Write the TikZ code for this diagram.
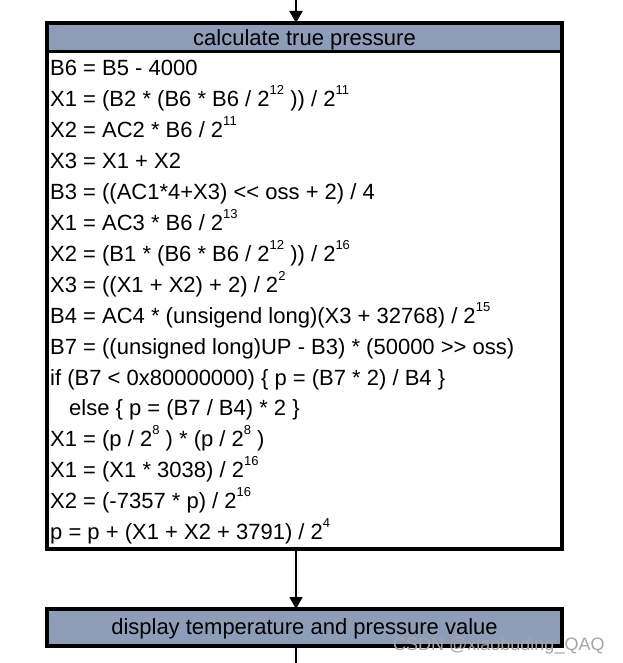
\documentclass[tikz,border=0pt]{standalone}
\usepackage{fontspec}
\setmainfont{Liberation Sans}
\usetikzlibrary{arrows.meta}
\definecolor{hdr}{RGB}{142,157,183}
\newcommand{\sups}[1]{\raisebox{12pt}{\fontsize{13}{13}\selectfont #1}}
\begin{document}
\begin{tikzpicture}[x=1pt,y=-1pt,
  box/.style={draw=black,line width=4.5pt,minimum width=515pt,inner sep=0pt,outer sep=0pt},
  hdrbar/.style={fill=hdr,minimum width=510.5pt,inner sep=0pt,outer sep=0pt},
  codeline/.style={anchor=base west,inner sep=0pt,font=\fontsize{22}{22}\selectfont},
  conn/.style={line width=2pt,-{Triangle[width=13pt,length=12pt]}},
  plain/.style={line width=2pt}]
\useasboundingbox (0,0) rectangle (622,663);
\fill[white] (0,0) rectangle (622,663);
% main box
\node[box,minimum height=526pt] (calc) at (304.5,286) {};
\node[hdrbar,minimum height=27pt,anchor=north] (calchdr) at (304.5,25.25) {};
\node[anchor=base,inner sep=0pt,font=\fontsize{22}{22}\selectfont] (calctitle) at (304.5,46) {calculate true pressure};
\draw[line width=2.5pt] (calc.west |- 0,51.5) ++(2.25,0) coordinate (sepl) -- (calc.east |- sepl) ++(-2.25,0) coordinate (sepr);
% code lines
\node[codeline] (l1) at (50,76) {B6 = B5 - 4000};
\node[codeline] (l2) at (50,106.9) {X1 = (B2 * (B6 * B6 / 2\sups{12} )) / 2\sups{11}};
\node[codeline] (l3) at (50,137.8) {X2 = AC2 * B6 / 2\sups{11}};
\node[codeline] (l4) at (50,168.7) {X3 = X1 + X2};
\node[codeline] (l5) at (50,199.6) {B3 = ((AC1*4+X3) <{}< oss + 2) / 4};
\node[codeline] (l6) at (50,230.5) {X1 = AC3 * B6 / 2\sups{13}};
\node[codeline] (l7) at (50,261.4) {X2 = (B1 * (B6 * B6 / 2\sups{12} )) / 2\sups{16}};
\node[codeline] (l8) at (50,292.3) {X3 = ((X1 + X2) + 2) / 2\sups{2}};
\node[codeline] (l9) at (50,323.2) {B4 = AC4 * (unsigend long)(X3 + 32768) / 2\sups{15}};
\node[codeline] (l10) at (50,354.1) {B7 = ((unsigned long)UP - B3) * (50000 >{}> oss)};
\node[codeline] (l11) at (50,385) {if (B7 < 0x80000000) \{ p = (B7 * 2) / B4 \}};
\node[codeline] (l12) at (69,415.9) {else \{ p = (B7 / B4) * 2 \}};
\node[codeline] (l13) at (50,446.8) {X1 = (p / 2\sups{8} ) * (p / 2\sups{8} )};
\node[codeline] (l14) at (50,477.7) {X1 = (X1 * 3038) / 2\sups{16}};
\node[codeline] (l15) at (50,508.6) {X2 = (-7357 * p) / 2\sups{16}};
\node[codeline] (l16) at (50,539.5) {p = p + (X1 + X2 + 3791) / 2\sups{4}};
% display box
\node[box,minimum height=37pt,fill=hdr] (disp) at (304.5,627.5) {};
\node[anchor=base,inner sep=0pt,font=\fontsize{22}{22}\selectfont] (disptitle) at (304.5,634) {display temperature and pressure value};
% connectors
\coordinate (top) at (296,0);
\coordinate (bot) at (296,663);
\draw[conn] (top) -- (top |- calc.north);
\draw[conn] (top |- calc.south) -- (top |- disp.north);
\draw[plain] (top |- disp.south) -- (bot);
% watermark
\node[anchor=base west,inner sep=0pt,text=black!35,font=\fontsize{18}{18}\selectfont] (wm) at (393,650) {CSDN @xiaobuding\_QAQ};
\end{tikzpicture}
\end{document}
